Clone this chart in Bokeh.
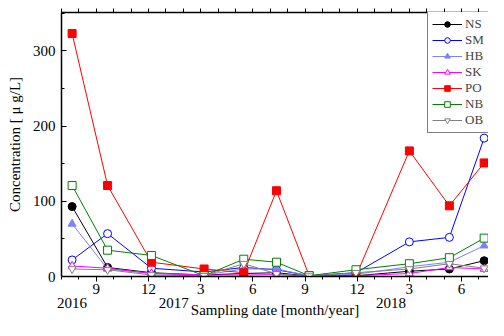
from bokeh.plotting import figure
from bokeh.models import LinearAxis, FixedTicker, Range1d, Legend, LegendItem
from bokeh.embed import file_html
from bokeh.resources import INLINE

# sampling dates as months counted from Jan 2016 (1 = Jan 2016)
sample_month = [7.61, 9.65, 12.17, 15.2, 17.48, 19.36, 21.24, 23.93, 27.0, 29.3, 31.3]

NS = [93, 12, 5, 2, 4, 5, 0.5, 1, 7, 10, 21]
SM = [22, 57, 11, 6, 12, 9, 1, 5, 46, 52, 184]
HB = [70, 10, 4, 2, 10, 10, 1, 3, 13, 19, 41]
SK = [14, 11, 4, 2, 2, 2.5, 0.5, 1, 4, 12, 10]
PO = [323, 121, 19, 10, 5, 114, 1, 0.5, 167, 94, 151]
NB = [121, 35, 28, 1, 23, 19, 1, 9, 17, 25, 51]
OB = [10, 9, 2, 1, 17, 3.5, 0.5, 5, 10, 17, 11]

series_names = ["NS", "SM", "HB", "SK", "PO", "NB", "OB"]
series_values = [NS, SM, HB, SK, PO, NB, OB]
series_colors = ["#000000", "#0000ff", "#8080ff", "#ff00ff", "#ff0000", "#008000", "#808080"]
series_markers = ["circle", "circle", "triangle", "triangle", "square", "square", "inverted_triangle"]
series_filled = [True, False, True, False, True, False, False]

month_ticks = [9, 12, 15, 18, 21, 24, 27, 30]
month_tick_labels = ["9", "12", "3", "6", "9", "12", "3", "6"]
minor_months = list(range(7, 32))
year_labels = ["2016", "2017", "2018"]
year_label_pos = [7.6, 13.45, 25.95]

y_ticks = [0, 100, 200, 300]
y_minor = [50, 150, 250, 350]

FONT = "Liberation Serif"

p = figure(width=488, height=320, output_backend="svg", toolbar_location=None,
           x_range=Range1d(7.0, 31.55), y_range=Range1d(0, 351),
           min_border_left=61, min_border_right=0, min_border_top=12, min_border_bottom=44,
           x_axis_location=None, y_axis_location=None)
p.outline_line_color = None
p.grid.visible = False
p.background_fill_color = "white"


def style_axis(ax):
    ax.axis_line_width = 1.5
    ax.axis_line_color = "black"
    ax.major_tick_line_width = 1
    ax.minor_tick_line_width = 1
    ax.major_label_text_font = FONT
    ax.major_label_text_font_size = "15px"
    ax.major_label_text_color = "black"
    ax.axis_label_text_font = FONT
    ax.axis_label_text_font_size = "15px"
    ax.axis_label_text_font_style = "normal"
    ax.axis_label_text_color = "black"


# month axis
xb = LinearAxis(ticker=FixedTicker(ticks=month_ticks, minor_ticks=minor_months),
                major_label_overrides={t: l for t, l in zip(month_ticks, month_tick_labels)})
style_axis(xb)
xb.major_tick_in = 0
xb.major_tick_out = 5
xb.minor_tick_in = 0
xb.minor_tick_out = 3
xb.major_label_standoff = 2
p.add_layout(xb, "below")

# year axis (labels only) with the axis title
xy = LinearAxis(ticker=FixedTicker(ticks=year_label_pos, minor_ticks=[]),
                major_label_overrides={t: l for t, l in zip(year_label_pos, year_labels)},
                axis_label="Sampling date [month/year]")
style_axis(xy)
xy.axis_line_color = None
xy.major_tick_line_color = None
xy.minor_tick_line_color = None
xy.major_tick_in = 0
xy.major_tick_out = 0
xy.minor_tick_in = 0
xy.minor_tick_out = 0
xy.major_label_standoff = 1
xy.axis_label_standoff = -9
p.add_layout(xy, "below")

# top frame line with ticks only (no labels)
xt = LinearAxis(ticker=FixedTicker(ticks=[], minor_ticks=minor_months))
style_axis(xt)
xt.major_tick_in = 0
xt.major_tick_out = 0
xt.minor_tick_in = 0
xt.minor_tick_out = 4
p.add_layout(xt, "above")

yl = LinearAxis(ticker=FixedTicker(ticks=y_ticks, minor_ticks=y_minor),
                axis_label="Concentration [ \u03bc g/L]")
style_axis(yl)
yl.major_tick_in = 5
yl.major_tick_out = 0
yl.minor_tick_in = 3
yl.minor_tick_out = 0
yl.major_label_standoff = 6
yl.axis_label_standoff = 7
p.add_layout(yl, "left")

items = []
for name, vals, col, mk, filled in zip(series_names, series_values, series_colors,
                                        series_markers, series_filled):
    ln = p.line(sample_month, vals, line_color=col, line_width=1)
    sc = p.scatter(sample_month, vals, marker=mk, size=8, line_color=col,
                   fill_color=col if filled else "white", line_width=1)
    items.append(LegendItem(label=name, renderers=[ln, sc]))

legend = Legend(items=items, location=(366, 143), padding=4, spacing=0, margin=0,
                label_height=14, glyph_height=14, glyph_width=30, label_standoff=3,
                label_text_font=FONT, label_text_font_size="13px",
                label_text_line_height=1.0,
                border_line_color="black", border_line_width=1,
                background_fill_color="white", background_fill_alpha=1)
p.add_layout(legend)

open("out.html", "w").write(file_html(p, INLINE))
